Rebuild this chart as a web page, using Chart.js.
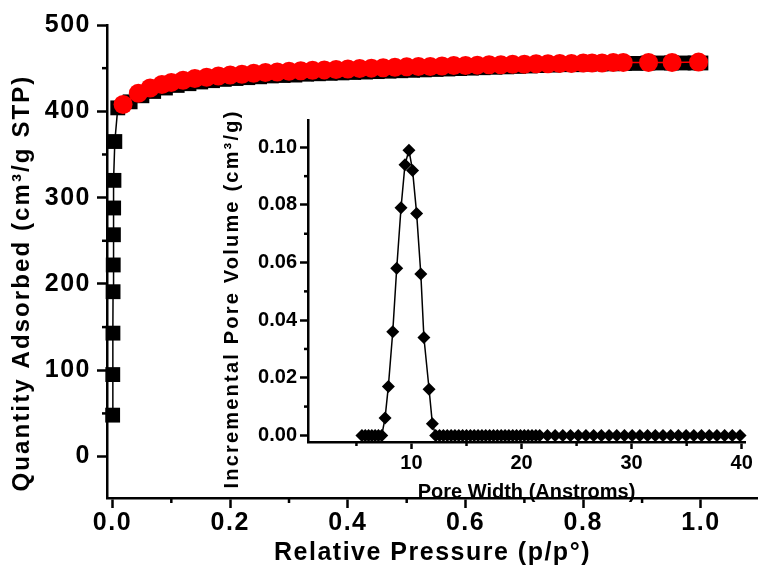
<!DOCTYPE html>
<html><head><meta charset="utf-8">
<script src="https://cdn.jsdelivr.net/npm/chart.js@4.4.0/dist/chart.umd.min.js"></script>
<style>
html,body{margin:0;padding:0;background:#fff;}
#wrap{position:relative;width:758px;height:572px;}
#wrap canvas{position:absolute;left:0;top:0;}
</style></head><body>
<div id="wrap"><canvas id="main" width="758" height="572"></canvas><canvas id="inset" width="758" height="572"></canvas></div>
<script>
// ---------- data ----------
const adsPressure = [0.0003, 0.0005, 0.0008, 0.001, 0.0013, 0.0016, 0.002, 0.0025, 0.004, 0.009,
  0.03, 0.05, 0.07, 0.09, 0.11, 0.13, 0.15, 0.17, 0.19, 0.21, 0.23, 0.25, 0.27, 0.29, 0.31, 0.33,
  0.35, 0.37, 0.39, 0.41, 0.43, 0.45, 0.47, 0.49, 0.51, 0.53, 0.55, 0.57, 0.59, 0.61, 0.63, 0.65,
  0.67, 0.69, 0.71, 0.73, 0.75, 0.77, 0.79, 0.81, 0.83, 0.85, 0.87, 0.89, 0.91, 0.93, 0.95, 0.97,
  0.99, 1.0];
const adsQuantity = [48, 95, 143, 191, 222, 257, 288, 320, 365, 404,
  411, 418, 423, 427, 430, 432, 434, 435.5, 437, 438, 439, 440, 441, 441.5, 442, 443,
  443.5, 444, 444.5, 445, 445.5, 446, 446.5, 447, 447.5, 448, 448.5, 449, 449.5, 450, 450.5, 451,
  451.5, 452, 452.5, 453, 453.5, 454, 454, 454.5, 455, 455, 455.5, 455.5, 456, 456, 456, 456,
  456, 456];
const desPressure = [0.996, 0.951, 0.911, 0.868, 0.851, 0.832, 0.815, 0.80, 0.78, 0.76, 0.74, 0.72,
  0.70, 0.68, 0.66, 0.64, 0.62, 0.60, 0.58, 0.56, 0.54, 0.52, 0.50, 0.48, 0.46, 0.44, 0.42, 0.40,
  0.38, 0.36, 0.34, 0.32, 0.30, 0.28, 0.26, 0.24, 0.22, 0.20, 0.18, 0.16, 0.14, 0.12, 0.10, 0.084,
  0.064, 0.044, 0.018];
const desQuantity = [457, 456.5, 456.5, 456.5, 456.5, 456, 456, 456, 455.5, 455.5, 455, 455,
  454.5, 454.5, 454, 454, 453.5, 453, 453, 452.5, 452, 452, 451.5, 451, 450.5, 450, 449.5, 449,
  448.5, 448, 447.5, 447, 446.5, 445.5, 445, 444, 443, 442, 441, 439.5, 438, 436, 433.5, 431,
  427, 421, 408];

const poreWidth = [5.5, 5.8, 6.1, 6.4, 6.7, 7.0, 7.3, 7.6, 7.9, 8.3, 8.66, 9.05, 9.41, 9.77, 10.1,
  10.47, 10.85, 11.13, 11.6, 11.9,
  12.2, 12.55, 12.9, 13.25, 13.6, 13.95, 14.3, 14.65, 15.0, 15.35, 15.7, 16.05, 16.4, 16.75, 17.1,
  17.45, 17.8, 18.15, 18.5, 18.85, 19.2, 19.55, 19.9, 20.25, 20.6, 20.95, 21.3, 21.65,
  22.35, 23.05, 23.75, 24.45, 25.15, 25.85, 26.55, 27.25, 27.95, 28.65, 29.35, 30.05, 30.75, 31.45,
  32.15, 32.85, 33.55, 34.25, 34.95, 35.65, 36.35, 37.05, 37.75, 38.45, 39.15, 39.85];
const poreVolume = [0, 0, 0, 0, 0, 0, 0, 0.006, 0.017, 0.036, 0.058, 0.079, 0.094, 0.099, 0.092,
  0.077, 0.056, 0.034, 0.016, 0.004,
  0, 0, 0, 0, 0, 0, 0, 0, 0, 0, 0, 0, 0, 0, 0,
  0, 0, 0, 0, 0, 0, 0, 0, 0, 0, 0, 0, 0,
  0, 0, 0, 0, 0, 0, 0, 0, 0, 0, 0, 0, 0, 0,
  0, 0, 0, 0, 0, 0, 0, 0, 0, 0, 0, 0];

const mainXTicks = [0, 0.2, 0.4, 0.6, 0.8, 1.0];
const mainXMinor = [0.1, 0.3, 0.5, 0.7, 0.9];
const mainYTicks = [0, 100, 200, 300, 400, 500];
const mainYMinor = [50, 150, 250, 350, 450];
const insetXTicks = [10, 20, 30, 40];
const insetXMinor = [5, 15, 25, 35];
const insetYTicks = [0, 0.02, 0.04, 0.06, 0.08, 0.10];
const insetYMinor = [0.01, 0.03, 0.05, 0.07, 0.09];

const mainXTitle = 'Relative Pressure (p/p°)';
const mainYTitle = 'Quantity Adsorbed (cm³/g STP)';
const insetXTitle = 'Pore Width (Anstroms)';
const insetYTitle = 'Incremental Pore Volume (cm³/g)';

// ---------- helpers ----------
const FONT = "'Liberation Sans', Arial, Helvetica, sans-serif";
Chart.defaults.font.family = FONT;
Chart.defaults.font.weight = 'bold';
Chart.defaults.color = '#000';

const pairs = (xs, ys) => xs.map((x, i) => ({x: x, y: ys[i]}));

const spacing = {
  id: 'spacing',
  beforeUpdate(chart, args, opts) { if ('letterSpacing' in chart.ctx) chart.ctx.letterSpacing = (opts.px || 0) + 'px'; },
  beforeDraw(chart, args, opts) { if ('letterSpacing' in chart.ctx) chart.ctx.letterSpacing = (opts.px || 0) + 'px'; }
};

const minorTicks = {
  id: 'minorTicks',
  afterDraw(chart, args, opts) {
    const ctx = chart.ctx;
    ctx.save();
    ctx.strokeStyle = '#000';
    ctx.lineWidth = opts.width || 2;
    (opts.items || []).forEach(it => {
      const s = chart.scales[it.axis];
      it.values.forEach(v => {
        const p = s.getPixelForValue(v);
        ctx.beginPath();
        if (s.isHorizontal()) { ctx.moveTo(p, s.top); ctx.lineTo(p, s.top + it.length); }
        else { ctx.moveTo(s.right, p); ctx.lineTo(s.right - it.length, p); }
        ctx.stroke();
      });
    });
    ctx.restore();
  }
};

const sideTitle = {
  id: 'sideTitle',
  afterDraw(chart, args, opts) {
    if (!opts.text) return;
    const ctx = chart.ctx;
    ctx.save();
    ctx.font = 'bold ' + opts.size + 'px ' + FONT;
    if ('letterSpacing' in ctx) ctx.letterSpacing = (opts.spacing || 0) + 'px';
    ctx.fillStyle = '#000';
    ctx.translate(opts.x, opts.y);
    ctx.rotate(-Math.PI / 2);
    ctx.textAlign = 'center';
    ctx.textBaseline = 'middle';
    ctx.fillText(opts.text, 0, 0);
    ctx.restore();
  }
};

const setTicks = list => scale => { scale.ticks = list.map(v => ({value: v})); };
const fitX = h => s => { s.height = h; s.paddingLeft = 0; s.paddingRight = 0; };
const fitY = w => s => { s.width = w; s.paddingTop = 0; s.paddingBottom = 0; };

// ---------- main isotherm ----------
new Chart(document.getElementById('main'), {
  type: 'line',
  data: {
    datasets: [
      { label: 'Desorption', data: pairs(desPressure, desQuantity),
        borderColor: '#ff0000', backgroundColor: '#ff0000', borderWidth: 1.5,
        pointStyle: 'circle', pointRadius: 9.5, pointBorderWidth: 0,
        pointBackgroundColor: '#ff0000', clip: false },
      { label: 'Adsorption', data: pairs(adsPressure, adsQuantity),
        borderColor: '#000', backgroundColor: '#000', borderWidth: 1.5,
        pointStyle: 'rect', pointRadius: 10.5, pointBorderWidth: 0,
        pointBackgroundColor: '#000', clip: false }
    ]
  },
  options: {
    responsive: false, animation: false, devicePixelRatio: 1, events: [],
    layout: { autoPadding: false, padding: { top: 25, left: 0, right: 0, bottom: 0 } },
    plugins: {
      legend: { display: false }, tooltip: { enabled: false },
      spacing: { px: 1.5 },
      minorTicks: { width: 2.5, items: [
        { axis: 'x', values: mainXMinor, length: 5 },
        { axis: 'y', values: mainYMinor, length: 5 } ] },
      sideTitle: { text: mainYTitle, x: 22, y: 283, size: 24, spacing: 2.1 }
    },
    scales: {
      x: {
        type: 'linear', min: -0.0093, max: 1.097,
        afterBuildTicks: setTicks(mainXTicks),
        afterFit: fitX(74),
        grid: { drawOnChartArea: false, drawTicks: true, tickLength: 10, tickColor: '#000', tickWidth: 2.5 },
        border: { display: true, color: '#000', width: 2.5 },
        ticks: { padding: 0, font: { size: 25, weight: 'bold' }, color: '#000',
                 maxRotation: 0, autoSkip: false, callback: v => Number(v).toFixed(1) },
        title: { display: true, text: mainXTitle, font: { size: 25, weight: 'bold' },
                 color: '#000', padding: { top: 0, bottom: 4 } }
      },
      y: {
        type: 'linear', min: -48, max: 500,
        afterBuildTicks: setTicks(mainYTicks),
        afterFit: fitY(107),
        grid: { drawOnChartArea: false, drawTicks: true, tickLength: 10, tickColor: '#000', tickWidth: 2.5 },
        border: { display: true, color: '#000', width: 2.5 },
        ticks: { padding: 6, font: { size: 25, weight: 'bold' }, color: '#000', autoSkip: false,
                 callback: v => String(v) }
      }
    }
  },
  plugins: [spacing, minorTicks, sideTitle]
});

// ---------- inset pore size distribution ----------
new Chart(document.getElementById('inset'), {
  type: 'line',
  data: {
    datasets: [
      { label: 'Pore volume', data: pairs(poreWidth, poreVolume),
        borderColor: '#000', backgroundColor: '#000', borderWidth: 1.5,
        pointStyle: 'rectRot', pointRadius: 6.5, pointBorderWidth: 0,
        pointBackgroundColor: '#000', clip: false }
    ]
  },
  options: {
    responsive: false, animation: false, devicePixelRatio: 1, events: [],
    layout: { autoPadding: false, padding: { top: 120, left: 0, right: 13, bottom: 0 } },
    plugins: {
      legend: { display: false }, tooltip: { enabled: false },
      minorTicks: { width: 2.5, items: [
        { axis: 'x', values: insetXMinor, length: 4 },
        { axis: 'y', values: insetYMinor, length: 4 } ] },
      sideTitle: { text: insetYTitle, x: 232, y: 299, size: 20, spacing: 2.2 }
    },
    scales: {
      x: {
        type: 'linear', min: 0.6, max: 40.3,
        afterBuildTicks: setTicks(insetXTicks),
        afterFit: fitX(130),
        grid: { drawOnChartArea: false, drawTicks: true, tickLength: 7, tickColor: '#000', tickWidth: 2.5 },
        border: { display: true, color: '#000', width: 2.5 },
        ticks: { padding: 2, font: { size: 20, weight: 'bold' }, color: '#000',
                 maxRotation: 0, autoSkip: false, callback: v => String(v) },
        title: { display: true, text: insetXTitle, font: { size: 20, weight: 'bold' },
                 color: '#000', padding: { top: 0, bottom: 68 } }
      },
      y: {
        type: 'linear', min: -0.0023, max: 0.1095,
        afterBuildTicks: setTicks(insetYTicks),
        afterFit: fitY(308),
        grid: { drawOnChartArea: false, drawTicks: true, tickLength: 8, tickColor: '#000', tickWidth: 2.5 },
        border: { display: true, color: '#000', width: 2.5 },
        ticks: { padding: 3, font: { size: 20, weight: 'bold' }, color: '#000', autoSkip: false,
                 callback: v => Number(v).toFixed(2) }
      }
    }
  },
  plugins: [minorTicks, sideTitle]
});
</script>
</body></html>
